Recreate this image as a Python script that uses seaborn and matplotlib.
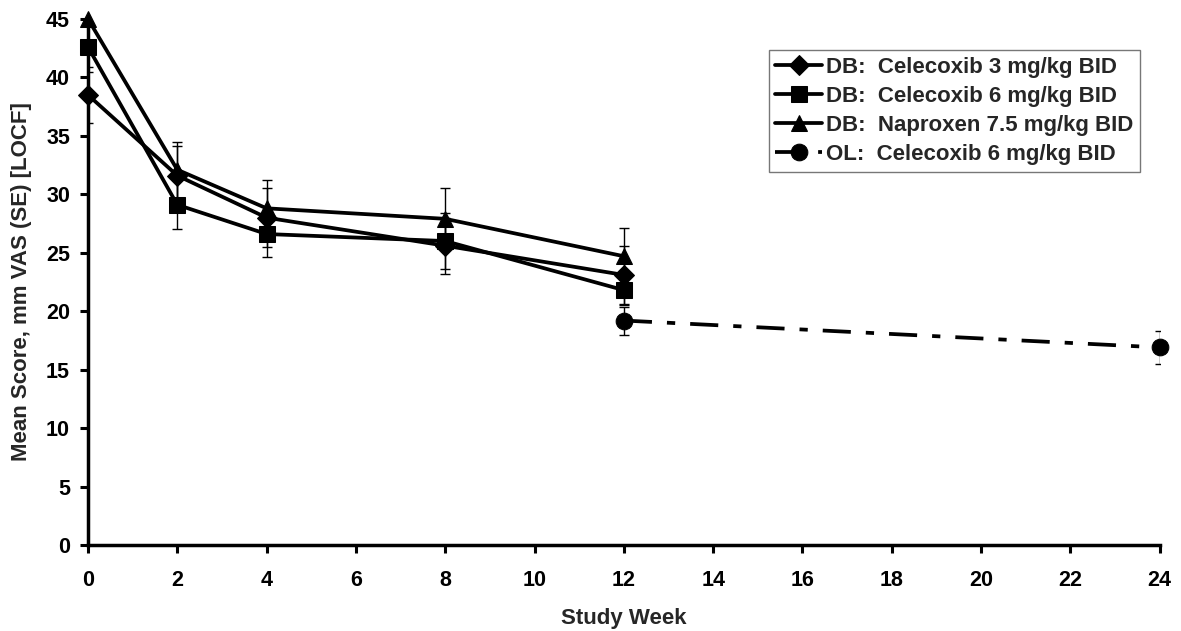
import seaborn as sns
import matplotlib.pyplot as plt
import pandas as pd

# Data
weeks_db = [0, 2, 4, 8, 12]
cel3 = [38.5, 31.6, 28.0, 25.6, 23.1]
cel3_se = [2.4, 2.5, 2.5, 2.4, 2.5]
cel6 = [42.6, 29.1, 26.6, 26.0, 21.8]
cel6_se = [2.1, 2.1, 2.0, 2.4, 1.3]
nap = [45.0, 32.1, 28.8, 27.9, 24.7]
nap_se = [2.4, 2.4, 2.4, 2.6, 2.4]

weeks_ol = [12, 24]
ol = [19.2, 16.9]
ol_se = [1.2, 1.4]

labels = ["DB:  Celecoxib 3 mg/kg BID", "DB:  Celecoxib 6 mg/kg BID",
          "DB:  Naproxen 7.5 mg/kg BID", "OL:  Celecoxib 6 mg/kg BID"]

df = pd.concat([
    pd.DataFrame({"Week": weeks_db, "Score": cel3, "SE": cel3_se, "Group": labels[0]}),
    pd.DataFrame({"Week": weeks_db, "Score": cel6, "SE": cel6_se, "Group": labels[1]}),
    pd.DataFrame({"Week": weeks_db, "Score": nap, "SE": nap_se, "Group": labels[2]}),
    pd.DataFrame({"Week": weeks_ol, "Score": ol, "SE": ol_se, "Group": labels[3]}),
])

sns.set_style("ticks")
plt.rcParams["font.family"] = ["Liberation Sans", "DejaVu Sans"]
plt.rcParams["font.weight"] = "bold"

fig, ax = plt.subplots(figsize=(11.81, 6.31), dpi=100)
fig.subplots_adjust(left=0.0745, right=0.982, bottom=0.1363, top=0.970)

styles = {
    labels[0]: dict(marker="D", markersize=10, linestyle="-"),
    labels[1]: dict(marker="s", markersize=12, linestyle="-"),
    labels[2]: dict(marker="^", markersize=11.5, linestyle="-"),
    labels[3]: dict(marker="o", markersize=12, linestyle=(0, (7.5, 4, 2.2, 4))),
}

for g in labels:
    sub = df[df["Group"] == g]
    ax.errorbar(sub["Week"], sub["Score"], yerr=sub["SE"], fmt="none",
                ecolor="black", elinewidth=1, capsize=3.5, capthick=1, zorder=2)
    st = styles[g]
    sns.lineplot(data=sub, x="Week", y="Score", ax=ax, color="black",
                 linewidth=2.7, marker=st["marker"], markersize=st["markersize"],
                 markeredgecolor="black", markerfacecolor="black",
                 linestyle=st["linestyle"], label=g, zorder=3, clip_on=False)

ax.set_xlim(0, 24)
ax.set_ylim(0, 45)
ax.set_xticks(range(0, 25, 2))
ax.set_yticks(range(0, 46, 5))
ax.set_xlabel("Study Week", fontsize=16, fontweight="bold", labelpad=12)
ax.set_ylabel("Mean Score, mm VAS (SE) [LOCF]", fontsize=16, fontweight="bold", labelpad=10)
ax.tick_params(axis="both", labelsize=15.5, width=2.2, length=6, direction="out", colors="black")
ax.tick_params(axis="x", pad=12)
ax.tick_params(axis="y", pad=7)
for lab in ax.get_xticklabels() + ax.get_yticklabels():
    lab.set_fontweight("bold")
sns.despine(ax=ax)
for s in ["left", "bottom"]:
    ax.spines[s].set_linewidth(2.5)
    ax.spines[s].set_color("black")
ax.grid(False)

leg = ax.legend(loc="upper left", bbox_to_anchor=(0.635, 0.94), frameon=True,
                fancybox=False, edgecolor="#555555", fontsize=16,
                handlelength=2.1, handletextpad=0.2, borderpad=0.3,
                labelspacing=0.36, borderaxespad=0)
leg.get_frame().set_linewidth(1)
for t in leg.get_texts():
    t.set_fontweight("bold")

plt.savefig("out.png", dpi=100)
